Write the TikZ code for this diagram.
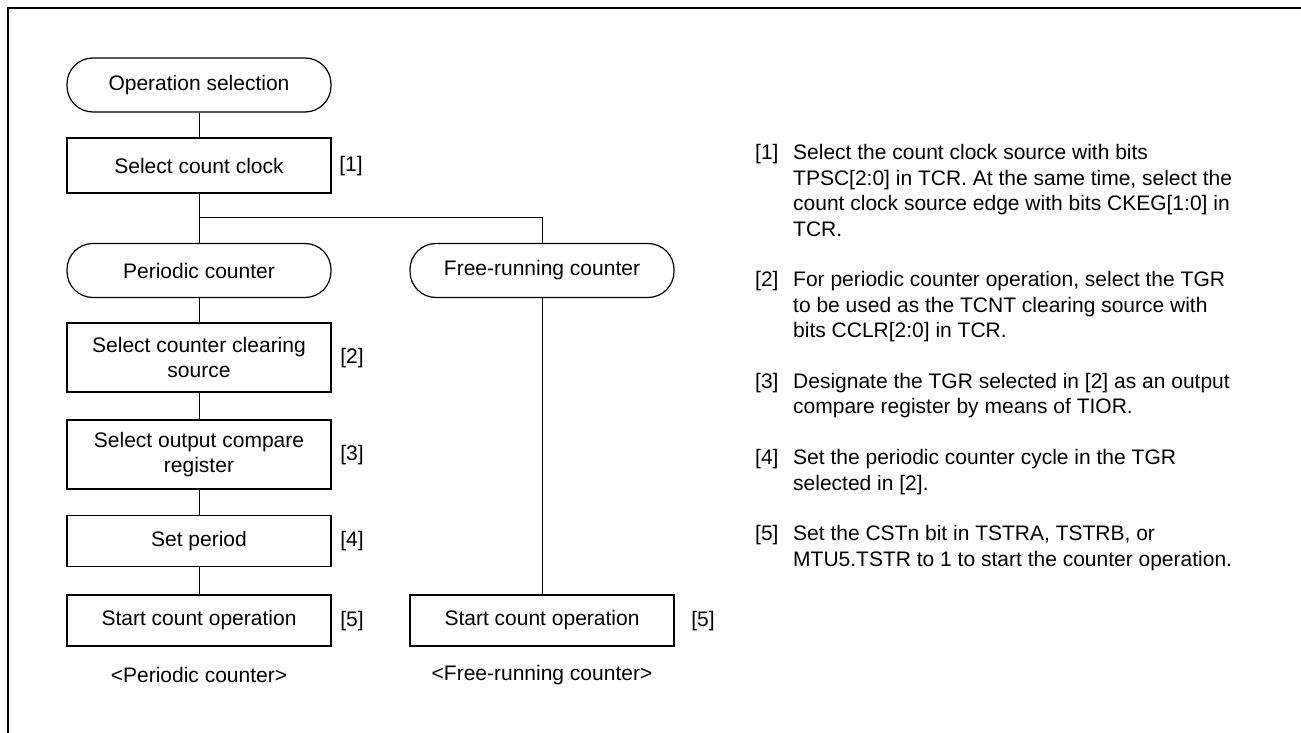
\documentclass[tikz,border=0pt]{standalone}
\usepackage{fontspec}
\setmainfont{Liberation Sans}

\tikzset{
  term/.style={draw, line width=1.2pt, rounded corners=26pt, minimum width=264pt, minimum height=54pt, inner sep=0pt},
  proc/.style={draw, line width=1.1pt, minimum width=264pt, align=center, inner sep=0pt},
  tag/.style={inner sep=0pt},
  link/.style={line width=0.9pt},
}

\begin{document}
\begin{tikzpicture}[x=1pt, y=-1pt, font=\fontsize{21}{25.4}\selectfont]
    % 1. page size and frame
    \useasboundingbox (0,0) rectangle (1301,733);
    \draw[line width=2pt] (7.5,733) -- (7.5,8.5) -- (1301,8.5);

    % 2. flow chart, left branch
    \node[term] (opsel) at (199,85) {Operation selection};
    \node[proc, minimum height=55pt] (selclk) at (199,165.5) {Select count clock};
    \node[term] (pcnt) at (199,270.5) {Periodic counter};
    \node[proc, minimum height=69pt] (clrsrc) at (199,357.5) {Select counter clearing\\source};
    \node[proc, minimum height=69pt] (cmpreg) at (199,454.5) {Select output compare\\register};
    \node[proc, minimum height=51pt] (setper) at (199,541) {Set period};
    \node[proc, minimum height=51pt] (startp) at (199,620.5) {Start count operation};
    \node[tag] (capp) at (199,675) {<Periodic counter>};

    % 3. right branch
    \node[term] (fcnt) at (542,270.5) {Free-running counter};
    \node[proc, minimum height=51pt] (startf) at (542,620.5) {Start count operation};
    \node[tag] (capf) at (542,675) {<Free-running counter>};

    % 4. step numbers
    \node[tag] (n1) at (351,166) {[1]};
    \node[tag] (n2) at (352,358) {[2]};
    \node[tag] (n3) at (352,455) {[3]};
    \node[tag] (n4) at (352,541.5) {[4]};
    \node[tag] (n5) at (352,621) {[5]};
    \node[tag] (n5f) at (703,621) {[5]};

    % 5. connectors
    \coordinate (split) at (199,217);
    \draw[link] (opsel) -- (selclk);
    \draw[link] (selclk) -- (pcnt);
    \draw[link] (split) -| (fcnt);
    \draw[link] (pcnt) -- (clrsrc);
    \draw[link] (clrsrc) -- (cmpreg);
    \draw[link] (cmpreg) -- (setper);
    \draw[link] (setper) -- (startp);
    \draw[link] (fcnt) -- (startf);

    % 6. notes
    \node[tag, anchor=base west] (notes) at (755,160) {%
      \begin{tabular}[t]{@{}p{38pt}@{}l@{}}
        {[1]} & Select the count clock source with bits\\
         & TPSC[2:0] in TCR. At the same time, select the\\
         & count clock source edge with bits CKEG[1:0] in\\
         & TCR.\\
         & \\
        {[2]} & For periodic counter operation, select the TGR\\
         & to be used as the TCNT clearing source with\\
         & bits CCLR[2:0] in TCR.\\
         & \\
        {[3]} & Designate the TGR selected in [2] as an output\\
         & compare register by means of TIOR.\\
         & \\
        {[4]} & Set the periodic counter cycle in the TGR\\
         & selected in [2].\\
         & \\
        {[5]} & Set the CSTn bit in TSTRA, TSTRB, or\\
         & MTU5.TSTR to 1 to start the counter operation.
      \end{tabular}};
\end{tikzpicture}
\end{document}
